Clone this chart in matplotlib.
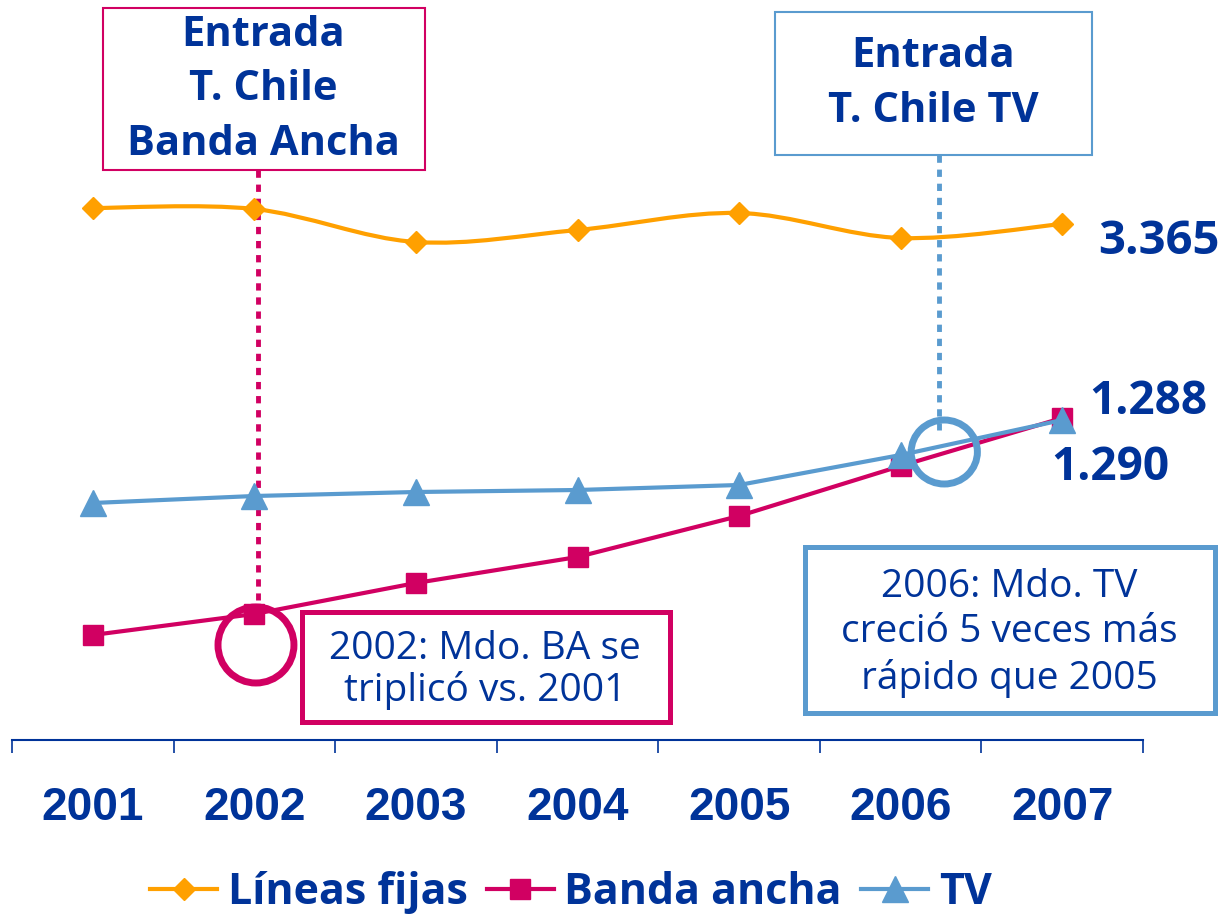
import numpy as np
import matplotlib.pyplot as plt
from matplotlib.path import Path
from matplotlib.patches import PathPatch, Rectangle, Ellipse
from matplotlib.lines import Line2D

# data: chart has no value axis, so levels are read as heights above the baseline
years = ["2001", "2002", "2003", "2004", "2005", "2006", "2007"]
lineas_fijas = [532, 531, 498, 510, 527, 502, 516]
banda_ancha = [105, 126, 157, 183, 224, 274, 322]
tv = [237, 244, 248, 250, 255, 285, 320]
end_labels = ["3.365", "1.288", "1.290"]

ORANGE = "#FFA000"
PINK = "#D10062"
LBLUE = "#5A9BCF"
DBLUE = "#003399"
W, H = 1226, 924


def fx(px):
    return px / W


def fy(py):
    return 1 - py / H


def smooth_path(xs, ys):
    # Catmull-Rom style bezier, like the "smoothed line" option in office charts
    pts = np.column_stack([xs, ys]).astype(float)
    n = len(pts)
    verts, codes = [pts[0]], [Path.MOVETO]
    for i in range(n - 1):
        p0 = pts[max(i - 1, 0)]
        p1, p2 = pts[i], pts[i + 1]
        p3 = pts[min(i + 2, n - 1)]
        verts += [p1 + (p2 - p0) / 6, p2 - (p3 - p1) / 6, p2]
        codes += [Path.CURVE4] * 3
    return Path(verts, codes)


fig = plt.figure(figsize=(W / 100, H / 100), dpi=100)
ax = fig.add_axes([fx(12), fy(740), fx(1143) - fx(12), 740 / H])
ax.set_xlim(-0.5, 6.5)
ax.set_ylim(0, 740)
ax.patch.set_visible(False)

x = np.arange(len(years))

# Líneas fijas (smoothed)
ax.add_patch(PathPatch(smooth_path(x, lineas_fijas), fill=False, ec=ORANGE, lw=3, zorder=3))
ax.plot(x, lineas_fijas, ls="none", marker="D", ms=11, color=ORANGE, zorder=4)
ax.plot(x, banda_ancha, color=PINK, lw=3, marker="s", ms=15, zorder=4)
ax.plot(x, tv, color=LBLUE, lw=3, marker="^", ms=19, zorder=5)

# axis
for s in ["top", "left", "right"]:
    ax.spines[s].set_visible(False)
ax.spines["bottom"].set_color(DBLUE)
ax.spines["bottom"].set_linewidth(1.5)
ax.set_yticks([])
ax.set_xticks(np.arange(-0.5, 7, 1))
ax.set_xticklabels([])
ax.tick_params(axis="x", which="major", direction="out", length=9, width=1.2, color=DBLUE)
ax.set_xticks(x, minor=True)
ax.set_xticklabels(years, minor=True)
ax.tick_params(axis="x", which="minor", length=0, pad=33, labelsize=33, labelcolor=DBLUE)
for t in ax.get_xticklabels(minor=True):
    t.set_fontfamily("Liberation Sans")
    t.set_fontweight("bold")

# end labels
bold = dict(family="Open Sans", fontweight="bold", color=DBLUE)
ax.text(6.22, lineas_fijas[-1] - 18, end_labels[0], fontsize=34, ha="left", va="center", **bold)
ax.text(6.17, banda_ancha[-1] + 17, end_labels[1], fontsize=33, ha="left", va="center", **bold)
ax.text(5.93, tv[-1] - 48, end_labels[2], fontsize=33, ha="left", va="center", **bold)

# dotted markers of entry dates
ax.plot([1.02, 1.02], [570, 140], color=PINK, lw=3.5, ls=(0, (1.5, 1.4)), zorder=2)
ax.plot([5.24, 5.24], [585, 310], color=LBLUE, lw=3.5, ls=(0, (1.5, 1.4)), zorder=2)
ax.add_patch(Ellipse((1.01, 95), 0.47, 76, fill=False, ec=PINK, lw=5, zorder=6, clip_on=False))
ax.add_patch(Ellipse((5.27, 288), 0.41, 64, fill=False, ec=LBLUE, lw=5, zorder=6, clip_on=False))

# top boxes
fig.add_artist(Rectangle((fx(103), fy(170)), fx(425) - fx(103), fy(8) - fy(170),
                         transform=fig.transFigure, fill=False, ec=PINK, lw=1.5))
fig.text(fx(263), fy(90), "Entrada\nT. Chile\nBanda Ancha", ha="center", va="center",
         fontsize=30, linespacing=1.42, **bold)
fig.add_artist(Rectangle((fx(775), fy(155)), fx(1092) - fx(775), fy(12) - fy(155),
                         transform=fig.transFigure, fill=False, ec=LBLUE, lw=1.5))
fig.text(fx(933), fy(84), "Entrada\nT. Chile TV", ha="center", va="center",
         fontsize=30, linespacing=1.42, **bold)

# bottom boxes
reg = dict(family="Open Sans", color=DBLUE)
fig.add_artist(Rectangle((fx(302), fy(722)), fx(670) - fx(302), fy(612) - fy(722),
                         transform=fig.transFigure, fill=True, fc="white", ec=PINK, lw=3.6, zorder=7))
fig.text(fx(485), fy(670), "2002: Mdo. BA se\ntriplicó vs. 2001", ha="center", va="center",
         fontsize=28, linespacing=1.08, zorder=8, **reg)
fig.add_artist(Rectangle((fx(805), fy(713)), fx(1215) - fx(805), fy(547) - fy(713),
                         transform=fig.transFigure, fill=True, fc="white", ec=LBLUE, lw=3.6, zorder=7))
fig.text(fx(1009), fy(633), "2006: Mdo. TV\ncreció 5 veces más\nrápido que 2005", ha="center",
         va="center", fontsize=28, linespacing=1.24, zorder=8, **reg)

# legend
handles = [
    Line2D([], [], color=ORANGE, lw=3, marker="D", ms=11),
    Line2D([], [], color=PINK, lw=3, marker="s", ms=15),
    Line2D([], [], color=LBLUE, lw=3, marker="^", ms=19),
]
leg = fig.legend(handles, ["Líneas fijas", "Banda ancha", "TV"], loc="center",
                 bbox_to_anchor=(fx(571), fy(893)), ncol=3, frameon=False,
                 handlelength=1.55, handletextpad=0.25, columnspacing=0.45,
                 prop=dict(family="Open Sans", weight="bold", size=31))
for t in leg.get_texts():
    t.set_color(DBLUE)

fig.savefig("out.png", dpi=100)
